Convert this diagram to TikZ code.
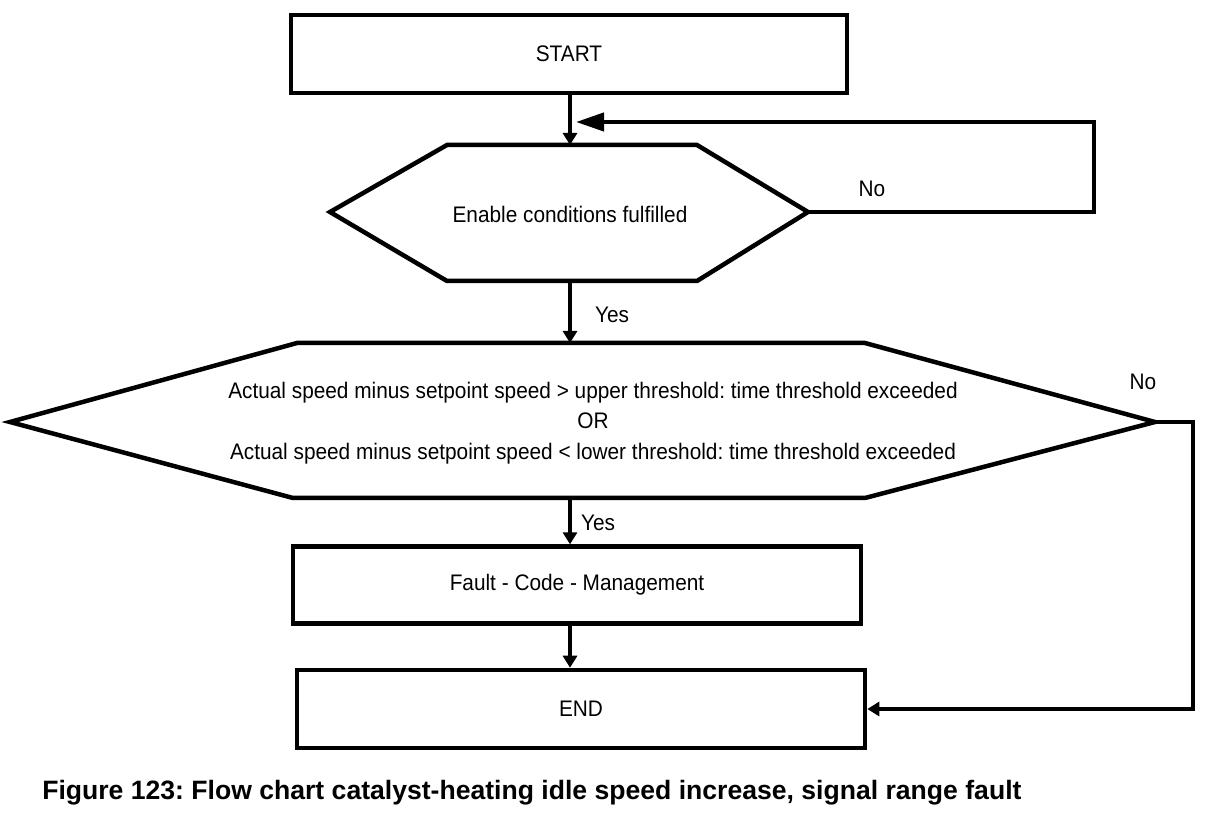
\documentclass[tikz,border=0pt]{standalone}
\usepackage{fontspec}
\setmainfont{Liberation Sans}
\newfontfamily\chartfont[FakeStretch=0.925]{Liberation Sans}
\usetikzlibrary{arrows.meta, positioning, calc}
\frenchspacing

\begin{document}
\begin{tikzpicture}[x=0.025cm, y=-0.025cm,
    box/.style={draw, rectangle, line width=3.2pt, minimum width=13.9cm, minimum height=1.95cm, align=center, font=\chartfont\fontsize{16}{18}\selectfont},
    decision/.style={draw, line width=3.2pt, line join=miter},
    txt/.style={align=center, inner sep=0pt, font=\chartfont\fontsize{16}{21.7}\selectfont},
    flow/.style={-{Triangle[length=0.3cm, width=0.35cm]}, line width=3pt},
    looparrow/.style={-{Triangle[length=0.7cm, width=0.45cm]}, line width=3pt}]

\useasboundingbox (0,0) rectangle (1216,832);

\node[box] (start) at (569,54) {START};

\coordinate (en-n) at (570,145);
\coordinate (en-s) at (570,281);
\coordinate (en-e) at (808,212);
\draw[decision] (330,212) -- (447,145) -- (697,145) -- (en-e) -- (697,281) -- (447,281) -- cycle;
\node[txt] (enable) at (570,214) {Enable conditions fulfilled};

\coordinate (cmp-n) at (570,343);
\coordinate (cmp-s) at (570,498);
\coordinate (cmp-e) at (1155,422);
\draw[decision] (10,422) -- (297,343) -- (865,343) -- (cmp-e) -- (865,498) -- (293,498) -- cycle;
\node[txt] (compare) at (593,423) {Actual speed minus setpoint speed > upper threshold: time threshold exceeded\\OR\\Actual speed minus setpoint speed < lower threshold: time threshold exceeded};

\node[box, minimum width=14.2cm, minimum height=1.92cm] (fault) at (577,585) {Fault - Code - Management};
\node[box, minimum width=14.2cm] (end) at (581,709) {END};

\coordinate (ret) at (1094,122);
\coordinate (back) at (576,122);
\coordinate (side) at (1193,422);

\draw[flow] (start.south -| en-n) -- (en-n);
\draw[looparrow] (en-e) -| (ret) -- (back);
\draw[flow] (en-s) -- (cmp-n);
\draw[flow] (cmp-s) -- (fault.north -| cmp-s);
\draw[flow] (fault.south -| cmp-s) -- (end.north -| cmp-s);
\draw[flow] (cmp-e) -- (side) |- (end.east);

\node[txt] (no1) at (872,189) {No};
\node[txt] (yes1) at (612,315) {Yes};
\node[txt] (no2) at (1143,382) {No};
\node[txt] (yes2) at (598,523) {Yes};

\node[anchor=west, inner sep=0pt, font=\bfseries\fontsize{18.9}{22}\selectfont] (caption) at (42,793) {Figure 123: Flow chart catalyst-heating idle speed increase, signal range fault};
\end{tikzpicture}
\end{document}
